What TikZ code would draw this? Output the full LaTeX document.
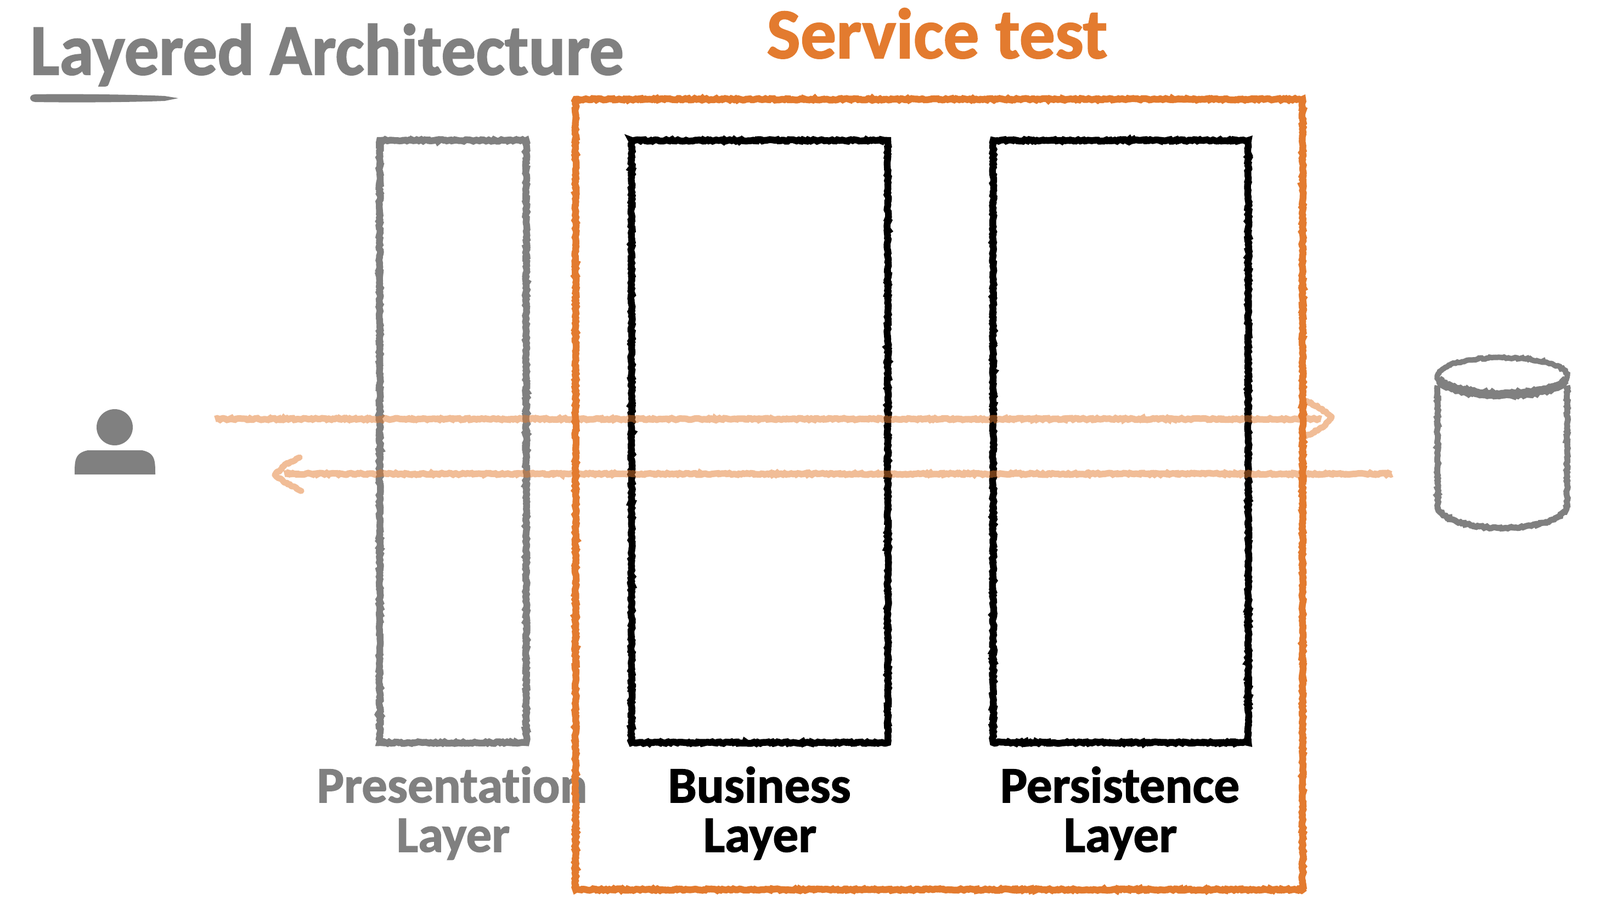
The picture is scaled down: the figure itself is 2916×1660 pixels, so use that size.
\documentclass[tikz,border=0pt]{standalone}
\usepackage{fontspec}
\setmainfont{Carlito}[Ligatures=NoCommon]
\newfontfamily\heavyfont{Carlito Bold}[FakeBold=1.6,Ligatures=NoCommon]
\usetikzlibrary{decorations.pathmorphing,shapes.geometric}
\definecolor{inkgray}{HTML}{808080}
\definecolor{inkorange}{HTML}{E37B2F}
\tikzset{
  x=0.5pt,y=-0.5pt,
  rough/.style={decorate,decoration={random steps,segment length=1.6pt,amplitude=0.75pt}},
  sketch/.style={line width=6.2pt,line join=miter,rough,preaction={draw,rough},preaction={draw,rough}},
  flowline/.style={draw=inkorange,line width=6pt,opacity=.5,rough,line cap=butt},
  flowhead/.style={draw=inkorange,line width=5.6pt,opacity=.5,rough,line cap=round,line join=round},
  cylline/.style={draw=inkgray,line width=#1,rough,preaction={draw,rough}},
  label/.style={inner sep=0pt,font=\heavyfont\fontsize{46.5}{46.5}\selectfont,align=center,anchor=base},
}
\begin{document}
\begin{tikzpicture}
\useasboundingbox (0,0) rectangle (2916,1660);

% title
\node[inner sep=0pt,anchor=base west,text=inkgray,font=\heavyfont\fontsize{66}{66}\selectfont,xscale=0.952] (title) at (55,136) {Layered Architecture};
\coordinate (ula) at (56,172);
\coordinate (ulb) at (325,179);
\fill[inkgray] (ula) ++(8,0) .. controls (120,171) and (240,172) .. (300,175) -- (ulb) -- (300,184) .. controls (220,187) and (120,187) .. (64,186) .. controls (52,185) and (52,172) .. (64,172) -- cycle;

% service test title
\node[inner sep=0pt,anchor=base,text=inkorange,font=\heavyfont\fontsize{65}{65}\selectfont] (svc) at (1708,106) {Service test};

% labels
\node[label,text=inkgray] (pres1) at (824,1463) {Presentation};
\node[label,text=inkgray] (pres2) at (826,1553) {Layer};
\node[label,text=black] (bus1) at (1384,1463) {Business};
\node[label,text=black] (bus2) at (1385,1553) {Layer};
\node[label,text=black] (per1) at (2041,1463) {Persistence};
\node[label,text=black] (per2) at (2042,1553) {Layer};

% layer boxes
\path[draw=inkgray,sketch] (692,256) rectangle (959,1354);
\path[draw=black,sketch] (1151,256) rectangle (1618,1354);
\path[draw=black,sketch] (1810,256) rectangle (2275,1354);

% service test frame
\path[draw=inkorange,sketch] (1049,181) rectangle (2374,1622);

% person
\fill[inkgray] (209,779) circle [x radius=33,y radius=33];
\fill[inkgray] (136,865) .. controls (136,840) and (136,826) .. (160,821) -- (259,821) .. controls (283,826) and (283,840) .. (283,865) -- cycle;

% database
\path[cylline=5.4pt] (2620,703) -- (2620,928);
\path[cylline=5.4pt] (2856,703) -- (2856,928);
\path[cylline=5.6pt] (2620,925) .. controls (2640,975) and (2836,975) .. (2856,925);
\path[cylline=5pt] (2738,685) circle [x radius=118,y radius=33];
\path[cylline=8pt] (2622,692) .. controls (2650,728) and (2826,728) .. (2854,692);

% flows
\coordinate (a1s) at (392,764);
\coordinate (a1e) at (2408,764);
\coordinate (a1u) at (2377,730);
\coordinate (a1t) at (2427,760);
\coordinate (a1d) at (2378,796);
\path[flowline] (a1s) -- (a1e);
\path[flowhead] (a1u) .. controls (2400,740) .. (a1t) .. controls (2410,780) .. (a1d);
\coordinate (a2s) at (2537,864);
\coordinate (a2e) at (518,864);
\coordinate (a2u) at (546,834);
\coordinate (a2t) at (501,866);
\coordinate (a2d) at (549,895);
\path[flowline] (a2s) -- (a2e);
\path[flowhead] (a2u) .. controls (520,846) .. (a2t) .. controls (520,880) .. (a2d);
\end{tikzpicture}
\end{document}
